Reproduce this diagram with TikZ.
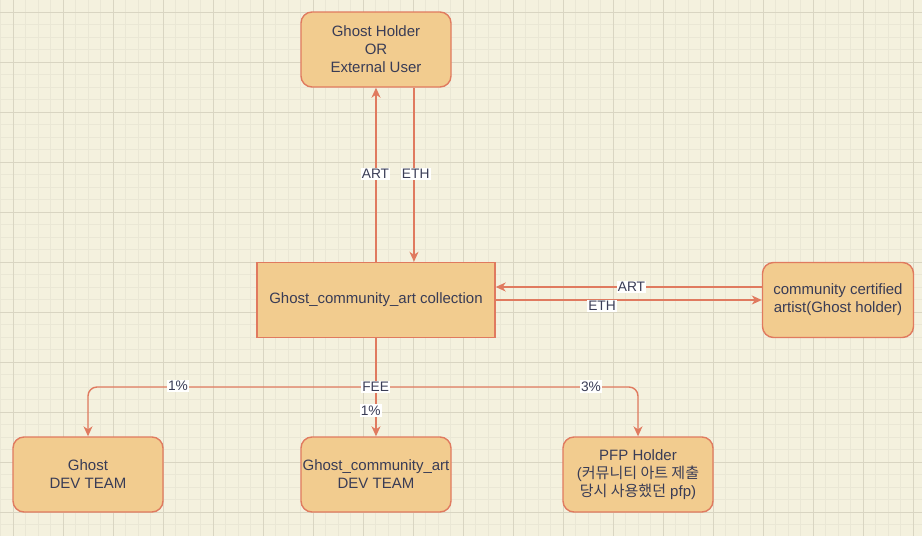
\documentclass[tikz,border=0pt]{standalone}
\usepackage{fontspec}
\setmainfont{Liberation Sans}
\newfontfamily\krfont{Noto Sans CJK KR}
\usetikzlibrary{arrows.meta}
\definecolor{bg}{HTML}{F4F1DE}
\definecolor{gridminor}{HTML}{EAE7D5}
\definecolor{gridmajor}{HTML}{D9D5C2}
\definecolor{boxfill}{HTML}{F2CC8F}
\definecolor{edgecol}{HTML}{E07A5F}
\definecolor{txt}{HTML}{393C56}
\tikzset{
  box/.style={draw=edgecol, fill=boxfill, line width=1.4pt, text=txt,
    minimum width=150pt, minimum height=75pt, align=center, inner sep=0pt,
    font=\fontsize{15}{18}\selectfont},
  rbox/.style={box, rounded corners=11pt},
  lbl/.style={fill=white, text=txt, inner sep=1.2pt,
    font=\fontsize{13.75}{16}\selectfont},
  flow/.style={draw=edgecol, line width=1.4pt,
    -{Stealth[length=10pt,width=9pt,inset=3pt]}},
  minorline/.style={draw=gridminor, line width=1pt},
  majorline/.style={draw=gridmajor, line width=1pt}
}
\begin{document}
\begin{tikzpicture}[x=1pt,y=-1pt]
\useasboundingbox (0,0) rectangle (922,536);
\fill[bg] (0,0) rectangle (922,536);
\foreach \k in {0,...,74} {\draw[minorline] ({0.8+12.5*\k},0) -- ({0.8+12.5*\k},536);}
\foreach \k in {0,...,43} {\draw[minorline] (0,{-0.2+12.5*\k}) -- (922,{-0.2+12.5*\k});}
\foreach \k in {0,...,18} {\draw[majorline] ({13.3+50*\k},0) -- ({13.3+50*\k},536);}
\foreach \k in {0,...,10} {\draw[majorline] (0,{12.3+50*\k}) -- (922,{12.3+50*\k});}

% nodes
\node[rbox] (top) at (376,49.5) {Ghost Holder\\OR\\External User};
\node[box, minimum width=238pt] (coll) at (376,300) {Ghost\_community\_art collection};
\node[rbox, minimum width=151pt] (artist) at (838,300) {community certified\\artist(Ghost holder)};
\node[rbox] (ghost) at (88,474.5) {Ghost\\DEV TEAM};
\node[rbox] (gdev) at (376,474.5) {Ghost\_community\_art\\DEV TEAM};
\node[rbox] (pfp) at (638,474.5) {PFP Holder\\({\krfont 커뮤니티 아트 제출}\\{\krfont 당시 사용했던} pfp)};

% connectors
\draw[flow] (coll.north) -- (top.south);
\draw[flow] ([xshift=38pt]top.south) -- ([xshift=38pt]coll.north);
\draw[flow] ([yshift=13pt]artist.west) -- ([yshift=13pt]coll.east);
\draw[flow] (coll.east) -- (artist.west);
\coordinate (split) at (376,387);
\draw[flow] (coll.south) -- (gdev.north);
\draw[flow, rounded corners=9pt] (split) -| (ghost.north);
\draw[flow, rounded corners=9pt] (split) -| (pfp.north);

% labels
\node[lbl] (l1) at (375.5,174) {ART};
\node[lbl] (l2) at (415.7,174) {ETH};
\node[lbl] (l3) at (631.5,287) {ART};
\node[lbl] (l4) at (602,306) {ETH};
\node[lbl] (l5) at (375.7,387) {FEE};
\node[lbl] (l6) at (178,386) {1\%};
\node[lbl] (l7) at (370.7,410.5) {1\%};
\node[lbl] (l8) at (591,386.5) {3\%};
\end{tikzpicture}
\end{document}
